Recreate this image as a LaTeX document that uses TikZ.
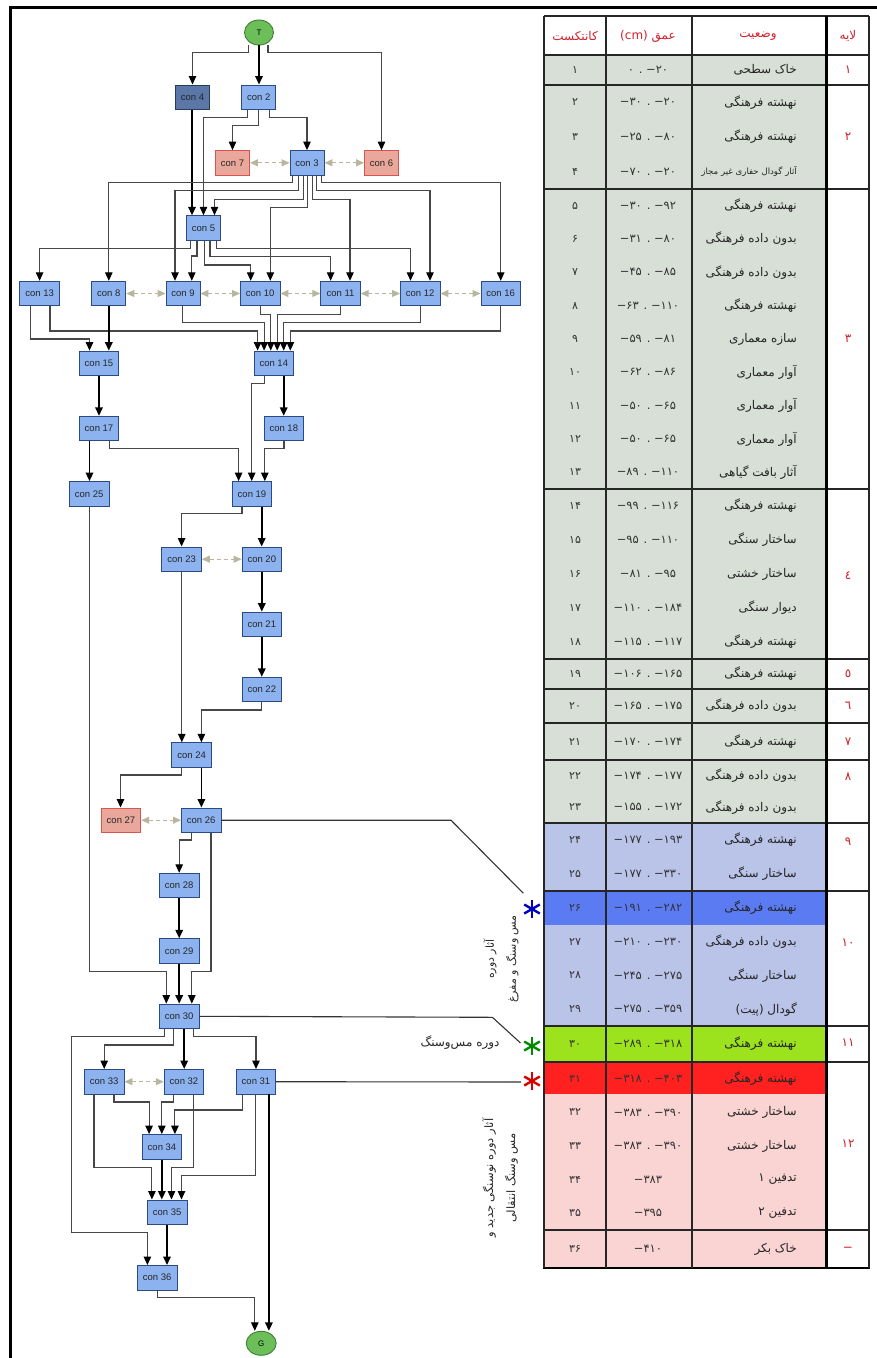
\documentclass[tikz,border=0pt]{standalone}
\usepackage{fontspec}
\setmainfont{Liberation Sans}
\newfontfamily\fa[Script=Arabic]{DejaVu Sans}
\TeXXeTstate=1
\usetikzlibrary{arrows.meta,shapes.geometric}
\definecolor{bfill}{HTML}{8CB3F0}
\definecolor{bdraw}{HTML}{2A4A80}
\definecolor{dfill}{HTML}{5A77A8}
\definecolor{ddraw}{HTML}{2A3A5A}
\definecolor{pfill}{HTML}{E9A89B}
\definecolor{pdraw}{HTML}{D9534F}
\definecolor{gfill}{HTML}{6CBF58}
\definecolor{gdraw}{HTML}{3D7D33}
\definecolor{dashc}{HTML}{B9B59F}
\definecolor{sage}{HTML}{D7DFD6}
\definecolor{lav}{HTML}{BAC3E8}
\definecolor{dblue}{HTML}{5B7BF2}
\definecolor{lime}{HTML}{9CE21D}
\definecolor{redr}{HTML}{FF2020}
\definecolor{pinkr}{HTML}{FAD3D3}
\definecolor{hred}{HTML}{D0202A}
\newcommand\trow[5]{%
  \node[ctxt] (k#1) at (575,#2) {\fa #3};
  \node[dtxt] (d#1) at (648,#2) {\fa #4};
  \node[stxt] (s#1) at (797,#2) {\fa #5};
}
\newcommand\astx[4]{%
  \foreach \a in {90,30,150} \draw[#3, line width=2.4] (#1,#2) ++(\a:9) -- ++({\a+180}:18);
  \coordinate (#4) at (#1,#2);
}
\begin{document}
\begin{tikzpicture}[x=1pt,y=-1pt,
  box/.style={rectangle, draw=bdraw, fill=bfill, line width=0.9, minimum width=39.5, minimum height=24.5, inner sep=0pt, font=\fontsize{9.5}{11}\selectfont, text=black!85},
  sbox/.style={box, minimum width=34},
  dbox/.style={sbox, fill=dfill, draw=ddraw},
  pbox/.style={box, fill=pfill, draw=pdraw},
  psbox/.style={pbox, minimum width=34},
  term/.style={ellipse, draw=gdraw, fill=gfill, line width=0.9, minimum width=29, minimum height=25, inner sep=0pt, font=\fontsize{8}{9}\selectfont},
  e/.style={draw=black!72, line width=1.1, -{Triangle[width=7.5,length=8.5,color=black]}},
  eb/.style={draw=black, line width=1.7, -{Triangle[width=7.5,length=8.5]}},
  g/.style={draw=dashc, line width=1.1, dash pattern=on 4pt off 3pt, {Triangle[width=7,length=8]}-{Triangle[width=7,length=8]}},
  ln/.style={draw=black!80, line width=1.1},
  tl/.style={line width=1.2, draw=black!85},
  ctxt/.style={font=\fontsize{11}{13}\selectfont, text=black!80, inner sep=0pt},
  dtxt/.style={font=\fontsize{11.5}{13}\selectfont, text=black!80, inner sep=0pt},
  stxt/.style={anchor=east, font=\fontsize{12}{14}\selectfont, text=black!85, inner sep=0pt},
  htxt/.style={font=\fontsize{12}{14}\selectfont, text=hred, inner sep=0pt},
  lab/.style={font=\fontsize{11}{22}\selectfont, text=black!85, inner sep=0pt}
]
\useasboundingbox (0,0) rectangle (877,1358);
% frame
\draw[line width=3] (10,1358) -- (10,7.5) -- (877,7.5);

% ---------------- graph nodes
\node[term] (T) at (259,32.5) {T};
\node[dbox] (c4) at (192.5,97.2) {con 4};
\node[sbox] (c2) at (258.8,97.2) {con 2};
\node[psbox] (c7) at (232.5,162.8) {con 7};
\node[sbox] (c3) at (307,162.8) {con 3};
\node[psbox] (c6) at (381.5,162.8) {con 6};
\node[sbox] (c5) at (203.5,228) {con 5};
\node[box] (c13) at (39.6,293.5) {con 13};
\node[sbox] (c8) at (108.8,293.5) {con 8};
\node[sbox] (c9) at (183,293.5) {con 9};
\node[box] (c10) at (260.2,293.5) {con 10};
\node[box] (c11) at (340.5,293.5) {con 11};
\node[box] (c12) at (420.2,293.5) {con 12};
\node[box] (c16) at (500.7,293.5) {con 16};
\node[box] (c15) at (99,363.3) {con 15};
\node[box] (c14) at (273.8,363.3) {con 14};
\node[box] (c17) at (99,428.5) {con 17};
\node[box] (c18) at (283.8,428.5) {con 18};
\node[box] (c25) at (89.2,493.8) {con 25};
\node[box] (c19) at (252,493.8) {con 19};
\node[box] (c23) at (181.6,559.2) {con 23};
\node[box] (c20) at (261.8,559.2) {con 20};
\node[box] (c21) at (261.8,624.3) {con 21};
\node[box] (c22) at (261.8,689.5) {con 22};
\node[box] (c24) at (191.6,755) {con 24};
\node[pbox] (c27) at (121,820.2) {con 27};
\node[box] (c26) at (201.2,820.2) {con 26};
\node[box] (c28) at (179.2,885.5) {con 28};
\node[box] (c29) at (179.2,951) {con 29};
\node[box] (c30) at (179.2,1016.3) {con 30};
\node[box] (c33) at (104.2,1081.7) {con 33};
\node[box] (c32) at (184,1081.7) {con 32};
\node[box] (c31) at (256,1081.7) {con 31};
\node[box] (c34) at (162,1146.8) {con 34};
\node[box] (c35) at (167.2,1212.2) {con 35};
\node[box] (c36) at (157.2,1277.7) {con 36};
\node[term, minimum width=30, minimum height=24] (G) at (261.2,1343.3) {G};

% ---------------- edges
\draw[e] (T.south -| 248.6,0) -- (248.6,52.3) -| (c4.north);
\draw[eb] (T.south) -- (T.south |- c2.north);
\draw[e] (T.south -| 268,0) -- (268,52.3) -| (c6.north);
\draw[eb] (c4.south -| 192,0) -- (c5.north -| 192,0);
\draw[e] (c2.south -| 247.2,0) -- (247.2,117.3) -| (c5.north);
\draw[e] (c2.south) -- (258.8,125.7) -| (c7.north);
\draw[e] (c2.south -| 269.6,0) -- (269.6,117.3) -| (c3.north);
\draw[g] (c7.east) -- (c3.west);
\draw[g] (c3.east) -- (c6.west);
% con3 out
\draw[e] (c3.south -| 292.7,0) -- (292.7,182.7) -| (c8.north);
\draw[e] (c3.south -| 298.3,0) -- (298.3,190.7) -| (c9.north -| 175,0);
\draw[e] (c3.south -| 303.3,0) -- (303.3,199.3) -| (c5.north -| 214.5,0);
\draw[e] (c3.south -| 307.3,0) -- (307.3,207.3) -| (c10.north -| 270.3,0);
\draw[e] (c3.south -| 312.3,0) -- (312.3,199.3) -| (c11.north -| 350,0);
\draw[e] (c3.south -| 316.7,0) -- (316.7,190.7) -| (c12.north -| 430,0);
\draw[e] (c3.south -| 321.7,0) -- (321.7,182.7) -| (c16.north);
% con5 out
\draw[e] (c5.south -| 190.4,0) -- (190.4,248.3) -| (c13.north);
\draw[e] (c5.south -| 197,0) -- (197,256) -| (c9.north -| 191.8,0);
\draw[e] (c5.south -| 204.2,0) -- (204.2,265) -| (c10.north -| 250.7,0);
\draw[e] (c5.south -| 210,0) -- (210,256.7) -| (c11.north -| 330.6,0);
\draw[e] (c5.south -| 216.3,0) -- (216.3,248.3) -| (c12.north -| 410.5,0);
% row links
\draw[g] (c8.east) -- (c9.west);
\draw[g] (c9.east) -- (c10.west);
\draw[g] (c10.east) -- (c11.west);
\draw[g] (c11.east) -- (c12.west);
\draw[g] (c12.east) -- (c16.west);
% row to 15 / 14
\draw[e] (c13.south -| 30.3,0) -- (30.3,339) -| (c15.north -| 89.5,0);
\draw[e] (c13.south -| 50,0) -- (50,331) -| (c14.north -| 257.6,0);
\draw[eb] (c8.south) -- (c8.south |- c15.north);
\draw[e] (c9.south -| 182.5,0) -- (182.5,322.3) -| (c14.north -| 264.1,0);
\draw[e] (c10.south -| 260.7,0) -- (260.7,314.3) -| (c14.north -| 270.7,0);
\draw[e] (c11.south -| 340.9,0) -- (340.9,314.3) -| (c14.north -| 277.2,0);
\draw[e] (c12.south -| 420.1,0) -- (420.1,322.3) -| (c14.north -| 283.7,0);
\draw[e] (c16.south -| 500.3,0) -- (500.3,331) -| (c14.north -| 290.3,0);
% middle
\draw[eb] (c15.south) -- (c17.north);
\draw[e] (c14.south -| 264.1,0) -- (264.1,383.3) -| (c19.north -| 251.7,0);
\draw[eb] (c14.south -| 283.7,0) -- (c18.north -| 283.7,0);
\draw[eb] (c17.south -| 89.5,0) -- (c25.north -| 89.5,0);
\draw[e] (c17.south -| 109.2,0) -- (109.2,448.3) -| (c19.north -| 238.6,0);
\draw[e] (c18.south -| 284,0) -- (284,448.3) -| (c19.north -| 264.8,0);
\draw[e] (c19.south -| 242,0) -- (242,513.7) -| (c23.north);
\draw[eb] (c19.south -| 261.7,0) -- (c20.north -| 261.7,0);
\draw[g] (c23.east) -- (c20.west);
\draw[eb] (c20.south) -- (c21.north);
\draw[eb] (c21.south) -- (c22.north);
\draw[e] (c23.south -| 181.8,0) -- (c24.north -| 181.8,0);
\draw[e] (c22.south) -- (261.8,710) -| (c24.north -| 201.4,0);
\draw[e] (c25.south -| 89.5,0) -- (89.5,971.3) -| (c30.north -| 166.3,0);
\draw[e] (c24.south -| 181.8,0) -- (181.8,775) -| (c27.north -| 120.5,0);
\draw[eb] (c24.south -| 201.4,0) -- (c26.north -| 201.4,0);
\draw[g] (c27.east) -- (c26.west);
\draw[e] (c26.south -| 191.8,0) -- (191.8,840) -| (c28.north);
\draw[e] (c26.south -| 211,0) -- (211,971.3) -| (c30.north -| 191.8,0);
\draw[eb] (c28.south) -- (c29.north);
\draw[eb] (c29.south) -- (c30.north);
% con30 out
\draw[e] (c30.south -| 164.6,0) -- (164.6,1036.7) -| (71.6,1232.7) -| (c36.north -| 147.4,0);
\draw[e] (c30.south -| 173.9,0) -- (173.9,1045) -| (c33.north);
\draw[eb] (c30.south -| 184.2,0) -- (c32.north -| 184.2,0);
\draw[e] (c30.south -| 193.9,0) -- (193.9,1036.7) -| (c31.north);
% bottom
\draw[g] (c33.east) -- (c32.west);
\draw[e] (c33.south -| 114,0) -- (114,1102) -| (c34.north -| 149.1,0);
\draw[e] (c32.south -| 173.9,0) -- (173.9,1102) -| (c34.north -| 161.8,0);
\draw[e] (c31.south -| 242.8,0) -- (242.8,1110) -| (c34.north -| 174.9,0);
\draw[e] (c33.south -| 94,0) -- (94,1167.3) -| (c35.north -| 151.9,0);
\draw[eb] (c34.south -| 161.8,0) -- (c35.north -| 161.8,0);
\draw[e] (c32.south -| 193.9,0) -- (193.9,1167.3) -| (c35.north -| 171.5,0);
\draw[e] (c31.south -| 255.9,0) -- (255.9,1175.3) -| (c35.north -| 181.5,0);
\draw[eb] (c35.south -| 167,0) -- (c36.north -| 167,0);
\draw[e] (c36.south -| 157.4,0) -- (157.4,1297.7) -| (G.north -| 254.8,0);
\draw[eb] (c31.south -| 268.9,0) -- (G.north -| 268.9,0);

% ---------------- table fills
\fill[sage] (544,55) rectangle (825,823);
\fill[lav] (544,823) rectangle (825,891);
\fill[dblue] (544,891) rectangle (825,925);
\fill[lav] (544,925) rectangle (825,1026);
\fill[lime] (544,1026) rectangle (825,1062);
\fill[redr] (544,1062) rectangle (825,1094);
\fill[pinkr] (544,1094) rectangle (825,1268);
% table lines
\foreach \yy in {16,55,85,189,489,659,689,723,760,823,891,1026,1062,1230}
  \draw[tl] (544,\yy) -- (869,\yy);
\draw[line width=2] (543,1268) -- (870,1268);
\foreach \xx in {544,606,692,869} \draw[tl] (\xx,16) -- (\xx,1268);
\draw[line width=3] (826,16) -- (826,1268);

% header
\node[htxt] (h1) at (575,36) {\fa\beginR کانتکست\endR};
\node[htxt] (h2) at (648,36) {\fa\beginR عمق \beginL(cm)\endL\endR};
\node[htxt] (h3) at (758,36) {\fa\beginR وضعیت\endR};
\node[htxt] (h4) at (848,36) {\fa\beginR لایه\endR};

% rows
\trow{1}{70}{۱}{\beginR ۲۰− . ۰\endR}{\beginR خاک سطحی\endR}
\trow{2}{102.3}{۲}{\beginR ۲۰− . ۳۰−\endR}{\beginR نهشته فرهنگی\endR}
\trow{3}{137}{۳}{\beginR ۸۰− . ۲۵−\endR}{\beginR نهشته فرهنگی\endR}
\node[ctxt] (k4) at (575,171.7) {\fa ۴};
\node[dtxt] (d4) at (648,171.7) {\fa\beginR ۲۰− . ۷۰−\endR};
\node[stxt, font=\fontsize{8.6}{10}\selectfont] (s4) at (797,171.7) {\fa\beginR آثار گودال حفاری غیر مجاز\endR};
\trow{5}{205.7}{۵}{\beginR ۹۲− . ۳۰−\endR}{\beginR نهشته فرهنگی\endR}
\trow{6}{239}{۶}{\beginR ۸۰− . ۳۱−\endR}{\beginR بدون داده  فرهنگی\endR}
\trow{7}{272.3}{۷}{\beginR ۸۵− . ۴۵−\endR}{\beginR بدون داده  فرهنگی\endR}
\trow{8}{305.7}{۸}{\beginR ۱۱۰− . ۶۳−\endR}{\beginR نهشته فرهنگی\endR}
\trow{9}{339}{۹}{\beginR ۸۱− . ۵۹−\endR}{\beginR سازه معماری\endR}
\trow{10}{372.3}{۱۰}{\beginR ۸۶− . ۶۲−\endR}{\beginR آوار معماری\endR}
\trow{11}{405.7}{۱۱}{\beginR ۶۵− . ۵۰−\endR}{\beginR آوار معماری\endR}
\trow{12}{439}{۱۲}{\beginR ۶۵− . ۵۰−\endR}{\beginR آوار معماری\endR}
\trow{13}{472.3}{۱۳}{\beginR ۱۱۰− . ۸۹−\endR}{\beginR آثار بافت گیاهی\endR}
\trow{14}{506}{۱۴}{\beginR ۱۱۶− . ۹۹−\endR}{\beginR نهشته فرهنگی\endR}
\trow{15}{540}{۱۵}{\beginR ۱۱۰− . ۹۵−\endR}{\beginR ساختار سنگی\endR}
\trow{16}{574}{۱۶}{\beginR ۹۵− . ۸۱−\endR}{\beginR ساختار خشتی\endR}
\trow{17}{608}{۱۷}{\beginR ۱۸۴− . ۱۱۰−\endR}{\beginR دیوار سنگی\endR}
\trow{18}{642}{۱۸}{\beginR ۱۱۷− . ۱۱۵−\endR}{\beginR نهشته فرهنگی\endR}
\trow{19}{674}{۱۹}{\beginR ۱۶۵− . ۱۰۶−\endR}{\beginR نهشته فرهنگی\endR}
\trow{20}{706}{۲۰}{\beginR ۱۷۵− . ۱۶۵−\endR}{\beginR بدون داده  فرهنگی\endR}
\trow{21}{741.5}{۲۱}{\beginR ۱۷۴− . ۱۷۰−\endR}{\beginR نهشته فرهنگی\endR}
\trow{22}{775.7}{۲۲}{\beginR ۱۷۷− . ۱۷۴−\endR}{\beginR بدون داده  فرهنگی\endR}
\trow{23}{807.3}{۲۳}{\beginR ۱۷۲− . ۱۵۵−\endR}{\beginR بدون داده  فرهنگی\endR}
\trow{24}{840}{۲۴}{\beginR ۱۹۳− . ۱۷۷−\endR}{\beginR نهشته فرهنگی\endR}
\trow{25}{874}{۲۵}{\beginR ۳۳۰− . ۱۷۷−\endR}{\beginR ساختار سنگی\endR}
\trow{26}{908}{۲۶}{\beginR ۲۸۲− . ۱۹۱−\endR}{\beginR نهشته فرهنگی\endR}
\trow{27}{941.6}{۲۷}{\beginR ۲۳۰− . ۲۱۰−\endR}{\beginR بدون داده فرهنگی\endR}
\trow{28}{975.4}{۲۸}{\beginR ۲۷۵− . ۲۴۵−\endR}{\beginR ساختار سنگی\endR}
\trow{29}{1009.1}{۲۹}{\beginR ۳۵۹− . ۲۷۵−\endR}{\beginR گودال (پیت)\endR}
\trow{30}{1044}{۳۰}{\beginR ۳۱۸− . ۲۸۹−\endR}{\beginR نهشته فرهنگی\endR}
\trow{31}{1078.5}{۳۱}{\beginR ۴۰۳− . ۳۱۸−\endR}{\beginR نهشته فرهنگی\endR}
\trow{32}{1112.4}{۳۲}{\beginR ۳۹۰− . ۳۸۳−\endR}{\beginR ساختار خشتی\endR}
\trow{33}{1146}{۳۳}{\beginR ۳۹۰− . ۳۸۳−\endR}{\beginR ساختار خشتی\endR}
\trow{34}{1179.6}{۳۴}{\beginR ۳۸۳−\endR}{\beginR تدفین ۱\endR}
\trow{35}{1213.2}{۳۵}{\beginR ۳۹۵−\endR}{\beginR تدفین ۲\endR}
\trow{36}{1249}{۳۶}{\beginR ۴۱۰−\endR}{\beginR خاک بکر\endR}

% layer labels
\node[htxt] (L1) at (848,70) {\fa ۱};
\node[htxt] (L2) at (848,137) {\fa ۲};
\node[htxt] (L3) at (848,339) {\fa ۳};
\node[htxt] (L4) at (848,576) {\fa ٤};
\node[htxt] (L5) at (848,674) {\fa ٥};
\node[htxt] (L6) at (848,706) {\fa ٦};
\node[htxt] (L7) at (848,741.5) {\fa ۷};
\node[htxt] (L8) at (848,776.5) {\fa ۸};
\node[htxt] (L9) at (848,841.5) {\fa ۹};
\node[htxt] (L10) at (848,943) {\fa ۱۰};
\node[htxt] (L11) at (848,1043) {\fa ۱۱};
\node[htxt] (L12) at (848,1144) {\fa ۱۲};
\node[htxt] (L13) at (848,1249) {\fa −};

% asterisks and leader lines
\astx{532}{909}{blue!75!black}{sb}
\astx{532}{1046}{green!55!black}{sg}
\astx{532}{1081}{red!85!black}{sr}
\coordinate (eb1) at (523.4,893.3);
\coordinate (eg1) at (520.5,1043);
\coordinate (er1) at (521,1082);
\draw[ln] (c26.east) -- (451,820.2) -- (eb1);
\draw[ln] (c30.east) -- (492.4,1017.3) -- (eg1);
\draw[ln] (c31.east) -- (er1);

% side labels
\node[lab, rotate=90, align=center] (la) at (501,959) {\fa\beginR آثار دوره\endR\\\fa\beginR مس وسنگ و مفرغ\endR};
\node[lab, font=\fontsize{12}{14}\selectfont] (lc) at (460,1043) {\fa\beginR دوره مس‌وسنگ\endR};
\node[lab, font=\fontsize{11.5}{22}\selectfont, rotate=90, align=center] (lb) at (500,1178) {\fa\beginR آثار دوره نوسنگی جدید و\endR\\\fa\beginR مس وسنگ انتقالی\endR};
\end{tikzpicture}
\end{document}
